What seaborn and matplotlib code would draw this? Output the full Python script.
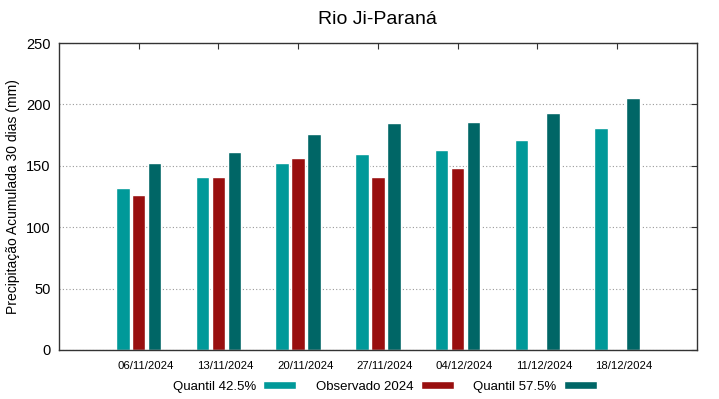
import numpy as np
import pandas as pd
import matplotlib
matplotlib.use("Agg")
import matplotlib.pyplot as plt
import matplotlib.transforms as mtransforms
import seaborn as sns
from matplotlib.patches import Patch

datas = ["06/11/2024", "13/11/2024", "20/11/2024", "27/11/2024",
         "04/12/2024", "11/12/2024", "18/12/2024"]
quantil_425 = [132, 141, 152, 160, 163, 171, 181]
observado_2024 = [126, 141, 156, 141, 148, np.nan, np.nan]
quantil_575 = [152, 161, 176, 185, 186, 193, 205]

series = ["Quantil 42.5%", "Observado 2024", "Quantil 57.5%"]
cores = ["#009999", "#990f0f", "#006666"]

df = pd.DataFrame({
    "data": datas * 3,
    "valor": quantil_425 + observado_2024 + quantil_575,
    "serie": [s for s in series for _ in datas],
})

sns.set_style("white")
plt.rcParams["font.family"] = ["Liberation Sans", "DejaVu Sans"]
plt.rcParams["text.color"] = "black"
plt.rcParams["axes.labelcolor"] = "black"
plt.rcParams["xtick.color"] = "black"
plt.rcParams["ytick.color"] = "black"

fig = plt.figure(figsize=(7.19, 3.99), dpi=100)
ax = fig.add_axes([0.082, 0.123, 0.887, 0.769])

sns.barplot(data=df, x="data", y="valor", hue="serie", hue_order=series,
            palette=cores, width=0.6, gap=0.15, saturation=1, legend=False,
            ax=ax, order=datas)

ax.set_xlim(-1, 7)
ax.set_ylim(0, 250)
ax.set_yticks([0, 50, 100, 150, 200, 250])
ax.yaxis.grid(True, linestyle=(0, (1, 2)), color="#999999", linewidth=0.8)
ax.set_axisbelow(True)
for s in ax.spines.values():
    s.set_color("#333333")
    s.set_linewidth(1)
ax.tick_params(axis="both", direction="in", top=True, right=True, length=4,
               color="#333333")
ax.tick_params(axis="x", labelsize=8.2, pad=8)
ax.tick_params(axis="y", labelsize=10.5, pad=6)
# gnuplot-style: date labels sit a bit right of the tick
desloc = mtransforms.ScaledTranslation(7 / 100, 0, fig.dpi_scale_trans)
for lbl in ax.get_xticklabels():
    lbl.set_transform(lbl.get_transform() + desloc)
ax.set_xlabel("")
ax.set_ylabel("Precipitação Acumulada 30 dias (mm)", fontsize=10)
ax.set_title("Rio Ji-Paraná", fontsize=14, pad=14)

handles = [Patch(facecolor=c, label=s) for s, c in zip(series, cores)]
fig.legend(handles=handles, loc="center", bbox_to_anchor=(0.535, 0.03),
           ncol=3, frameon=False, markerfirst=False, fontsize=9.5,
           handlelength=2.5, handleheight=0.55, columnspacing=1.5,
           handletextpad=0.55)

fig.savefig("out.png", dpi=100)
